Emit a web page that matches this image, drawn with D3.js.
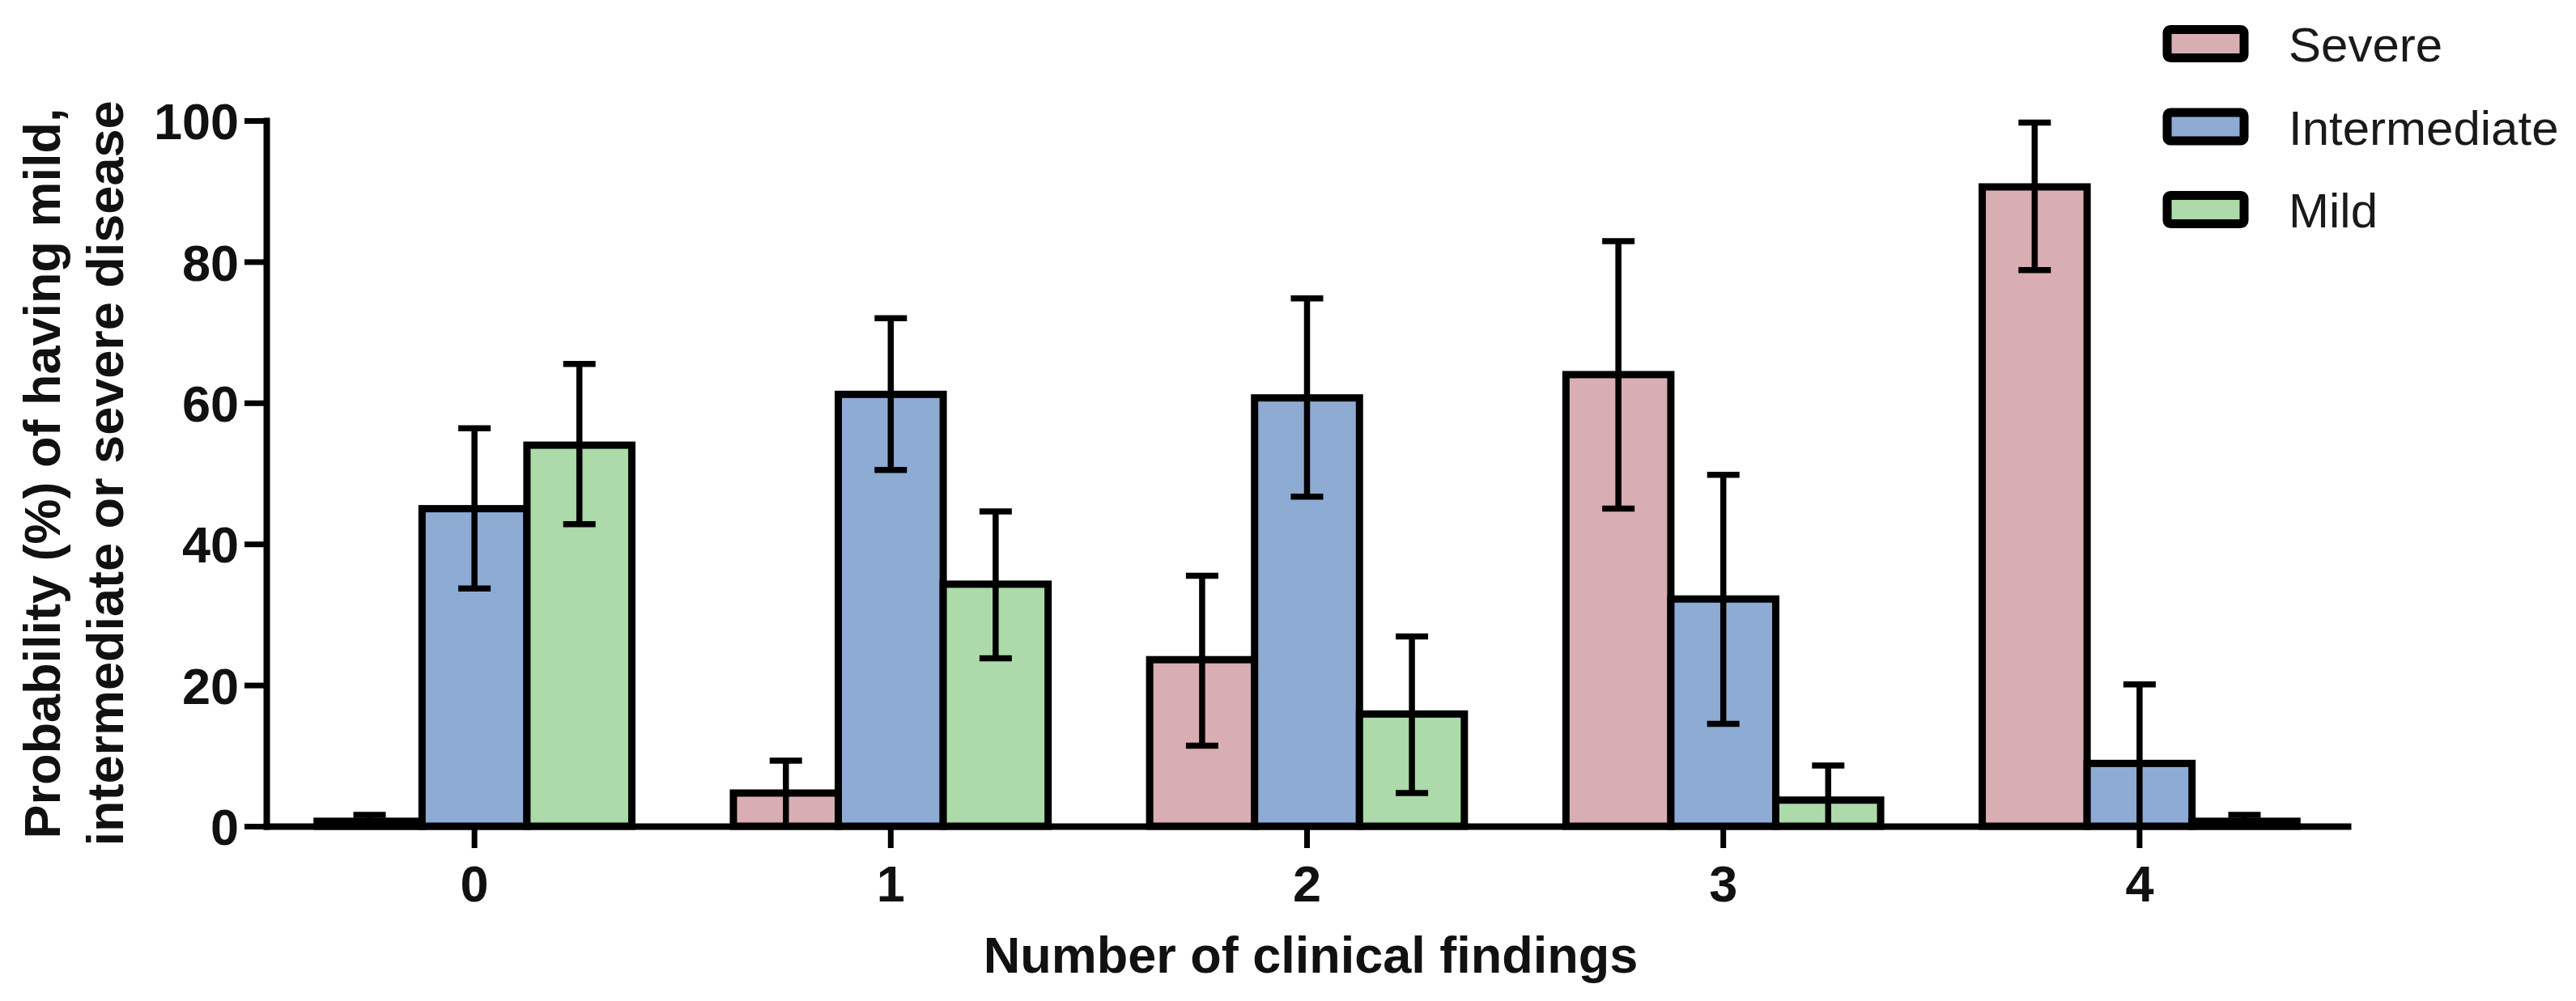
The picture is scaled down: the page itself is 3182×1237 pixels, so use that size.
<!DOCTYPE html>
<html>
<head>
<meta charset="utf-8">
<script src="https://cdn.jsdelivr.net/npm/d3@7"></script>
<style>
  html, body { margin: 0; padding: 0; background: #fff; }
  svg { display: block; }
  .tick text { font-family: "Liberation Sans", Arial, sans-serif; font-weight: bold; font-size: 63px; fill: #111; }
  .axis-title { font-family: "Liberation Sans", Arial, sans-serif; font-weight: bold; font-size: 63px; fill: #111; }
  .legend-label { font-family: "Liberation Sans", Arial, sans-serif; font-size: 60px; fill: #1a1a1a; }
</style>
</head>
<body>
<script>
// values (percent)
const categories = ["0", "1", "2", "3", "4"];
const seriesNames = ["Severe", "Intermediate", "Mild"];
const seriesColors = ["#d9aeb2", "#8eabd4", "#acdaa8"];

const severe = [0.7, 4.7, 23.6, 64.0, 90.6];
const severeLow = [0, 0, 11.4, 45.0, 78.8];
const severeHigh = [1.6, 9.3, 35.5, 82.9, 99.7];

const intermediate = [45.0, 61.2, 60.7, 32.2, 8.9];
const intermediateLow = [33.7, 50.5, 46.7, 14.5, 0];
const intermediateHigh = [56.4, 72.0, 74.8, 49.8, 20.1];

const mild = [54.0, 34.3, 15.9, 3.7, 0.7];
const mildLow = [42.8, 23.8, 4.7, 0, 0];
const mildHigh = [65.5, 44.6, 26.9, 8.6, 1.6];

const yTicks = [0, 20, 40, 60, 80, 100];

const width = 3182, height = 1237;
const margin = { left: 329, right: 282, top: 149, bottom: 216 };

const values = [severe, intermediate, mild];
const lows = [severeLow, intermediateLow, mildLow];
const highs = [severeHigh, intermediateHigh, mildHigh];

const rows = [];
categories.forEach((c, i) => {
    seriesNames.forEach((s, j) => {
        rows.push({ cat: c, series: s, idx: j, value: values[j][i], low: lows[j][i], high: highs[j][i] });
    });
});

const svg = d3.select("body").append("svg")
    .attr("width", width)
    .attr("height", height);

const x = d3.scaleBand()
    .domain(categories)
    .range([margin.left, width - margin.right])
    .paddingInner(0)
    .paddingOuter(0);

const groupWidth = x.bandwidth() * 0.756;
const x1 = d3.scaleBand()
    .domain(seriesNames)
    .range([(x.bandwidth() - groupWidth) / 2, (x.bandwidth() + groupWidth) / 2])
    .padding(0);

const y = d3.scaleLinear()
    .domain([0, 100])
    .range([height - margin.bottom, margin.top]);

const color = d3.scaleOrdinal().domain(seriesNames).range(seriesColors);

// bars
svg.append("g")
    .selectAll("rect")
    .data(rows)
    .join("rect")
    .attr("x", d => x(d.cat) + x1(d.series))
    .attr("y", d => y(d.value))
    .attr("width", x1.bandwidth())
    .attr("height", d => y(0) - y(d.value))
    .attr("fill", d => color(d.series))
    .attr("stroke", "#000")
    .attr("stroke-width", 9);

// error bars
const capW = 40;
const err = svg.append("g")
    .attr("stroke", "#000")
    .attr("stroke-width", 7.5);

rows.forEach(d => {
    const cx = x(d.cat) + x1(d.series) + x1.bandwidth() / 2;
    err.append("line")
        .attr("x1", cx).attr("x2", cx)
        .attr("y1", y(d.low)).attr("y2", y(d.high));
    err.append("line")
        .attr("x1", cx - capW / 2).attr("x2", cx + capW / 2)
        .attr("y1", y(d.high)).attr("y2", y(d.high));
    if (d.low > 0) {
        err.append("line")
            .attr("x1", cx - capW / 2).attr("x2", cx + capW / 2)
            .attr("y1", y(d.low)).attr("y2", y(d.low));
    }
});

// axes
const yAxis = svg.append("g")
    .attr("transform", `translate(${margin.left},0)`)
    .call(d3.axisLeft(y).tickValues(yTicks).tickSize(27).tickSizeOuter(0).tickPadding(7));

const xAxis = svg.append("g")
    .attr("transform", `translate(0,${y(0)})`)
    .call(d3.axisBottom(x).tickSize(27).tickSizeOuter(0).tickPadding(18));

[yAxis, xAxis].forEach(a => {
    a.select(".domain").attr("stroke", "#000").attr("stroke-width", 8).attr("stroke-linecap", "square");
    a.selectAll(".tick line").attr("stroke", "#000").attr("stroke-width", 7);
    a.attr("font-family", null).attr("font-size", null);
});
yAxis.selectAll(".tick text").attr("dy", "0.36em");
xAxis.selectAll(".tick text").attr("dy", "0.76em");

// axis titles
const midY = (y(0) + y(100)) / 2;
const yTitle = svg.append("text")
    .attr("class", "axis-title")
    .attr("transform", `translate(0,${midY}) rotate(-90)`)
    .attr("text-anchor", "middle");
yTitle.append("tspan").attr("x", 0).attr("y", 74).text("Probability (%) of having mild,");
yTitle.append("tspan").attr("x", 0).attr("y", 152).text("intermediate or severe disease");

svg.append("text")
    .attr("class", "axis-title")
    .attr("x", 1619)
    .attr("y", 1202)
    .attr("text-anchor", "middle")
    .text("Number of clinical findings");

// legend
const legend = svg.append("g").attr("transform", "translate(2677,0)");
const legendRows = legend.selectAll("g")
    .data(seriesNames)
    .join("g")
    .attr("transform", (d, i) => `translate(0,${54 + i * 102.5})`);

legendRows.append("rect")
    .attr("x", 0)
    .attr("y", -17.5)
    .attr("width", 95)
    .attr("height", 35)
    .attr("rx", 4)
    .attr("fill", d => color(d))
    .attr("stroke", "#000")
    .attr("stroke-width", 11);

legendRows.append("text")
    .attr("class", "legend-label")
    .attr("x", 150)
    .attr("y", 22)
    .text(d => d);
</script>
</body>
</html>
